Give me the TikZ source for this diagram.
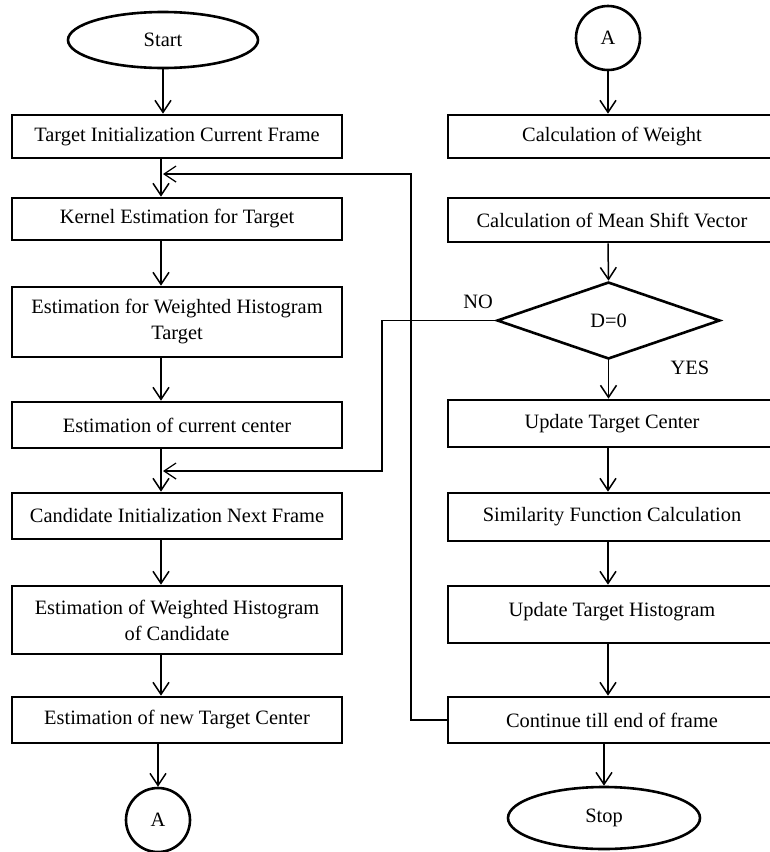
\documentclass[tikz,border=0pt]{standalone}
\usepackage{fontspec}
\setmainfont{Liberation Serif}
\usetikzlibrary{shapes.geometric,arrows.meta}
\begin{document}
\begin{tikzpicture}[x=1pt,y=-1pt,
  font=\fontsize{20.4}{26}\selectfont,
  box/.style={draw,line width=2.7pt,rectangle,inner sep=2pt,align=center},
  lbox/.style={box,minimum width=330pt},
  rbox/.style={box,minimum width=328pt},
  term/.style={draw,line width=2.6pt,ellipse,inner sep=0pt},
  conn/.style={draw,line width=2.6pt,circle,minimum size=64pt,inner sep=0pt},
  arr/.style={line width=1.5pt,-{Straight Barb[length=12pt,width=16pt]}},
  back/.style={line width=1.2pt,-{Straight Barb[length=12pt,width=16pt]}},
  tag/.style={inner sep=0pt}]
\useasboundingbox (0,0) rectangle (770,852);
\clip (0,0) rectangle (770,852);

% left column
\node[term,minimum width=190pt,minimum height=56pt] (start) at (163,40) {Start};
\node[lbox,minimum height=43pt] (l1) at (177,136.5) {Target Initialization Current Frame};
\node[lbox,minimum height=42pt] (l2) at (177,219) {Kernel Estimation for Target};
\node[lbox,minimum height=70pt] (l3) at (177,322) {Estimation for Weighted Histogram\\Target};
\node[lbox,minimum height=46pt] (l4) at (177,425) {Estimation of current center};
\node[lbox,minimum height=46pt] (l5) at (177,516) {Candidate Initialization Next Frame};
\node[lbox,minimum height=68pt] (l6) at (177,620) {Estimation of Weighted Histogram\\of Candidate};
\node[lbox,minimum height=46pt] (l7) at (177,720) {Estimation of new Target Center};
\node[conn] (a1) at (158,820) {A};

% right column
\node[conn] (a2) at (608,38) {A};
\node[rbox,minimum height=43pt] (r1) at (612,136.5) {Calculation of Weight};
\node[rbox,minimum height=44pt] (r2) at (612,220) {Calculation of Mean Shift Vector};
\node[draw,line width=2.6pt,diamond,minimum width=223pt,minimum height=77pt,inner sep=0pt] (dec) at (608.5,320.5) {D=0};
\node[rbox,minimum height=47pt] (r3) at (612,423.5) {Update Target Center};
\node[rbox,minimum height=48pt] (r4) at (612,517) {Similarity Function Calculation};
\node[rbox,minimum height=57pt,text height=20pt,text depth=16pt] (r5) at (612,614.5) {Update Target Histogram};
\node[rbox,minimum height=46pt] (r6) at (612,720) {Continue till end of frame};
\node[term,minimum width=192pt,minimum height=62pt] (stop) at (604,818) {Stop};

\node[tag] (no) at (478,302) {NO};
\node[tag] (yes) at (690,368) {YES};

% column axes for the vertical connectors
\coordinate (lx) at (161,0);
\coordinate (rx) at (608,0);

% left column flow
\draw[arr] (start.south) -- (start.south |- l1.north);
\draw[arr] (l1.south -| lx) -- (l2.north -| lx);
\draw[arr] (l2.south -| lx) -- (l3.north -| lx);
\draw[arr] (l3.south -| lx) -- (l4.north -| lx);
\draw[arr] (l4.south -| lx) -- (l5.north -| lx);
\draw[arr] (l5.south -| lx) -- (l6.north -| lx);
\draw[arr] (l6.south -| lx) -- (l7.north -| lx);
\draw[arr] (l7.south -| a1) -- (a1.north);

% right column flow
\draw[arr] (a2.south) -- (a2.south |- r1.north);
\draw[arr] (r2.south -| rx) -- (dec.north);
\draw[arr] (dec.south) -- (dec.south |- r3.north);
\draw[arr] (r3.south -| rx) -- (r4.north -| rx);
\draw[arr] (r4.south -| rx) -- (r5.north -| rx);
\draw[arr] (r5.south -| rx) -- (r6.north -| rx);
\draw[arr] (r6.south -| stop) -- (stop.north);

% loop-backs
\coordinate (nojoin) at (163,471);
\coordinate (loopjoin) at (163,174);
\draw[back] (dec.west) -- (382,320.5) -- (382,471) -- (nojoin);
\draw[back] (r6.west) -- (411,720) -- (411,174) -- (loopjoin);
\end{tikzpicture}
\end{document}
